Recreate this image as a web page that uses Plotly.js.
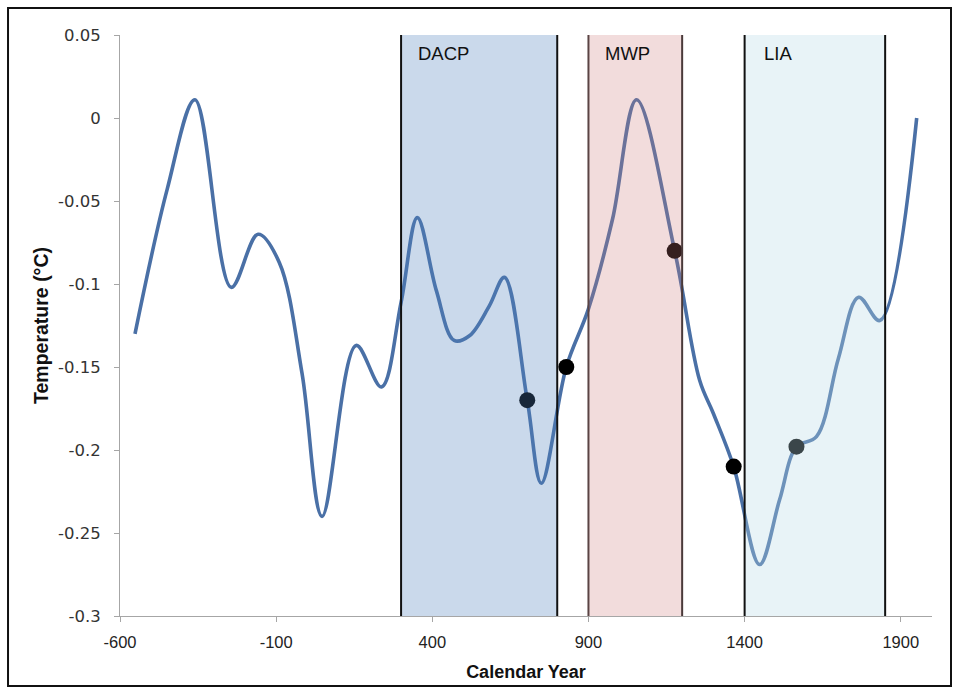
<!DOCTYPE html>
<html>
<head>
<meta charset="utf-8">
<script src="https://cdn.plot.ly/plotly-3.0.1.min.js"></script>
<style>html,body{margin:0;padding:0;background:#fff;}#chart{width:956px;height:687px;}</style>
</head>
<body>
<div id="chart"></div>
<script>
// Reconstructed temperature series (calendar year, °C anomaly)
var years = [-552, -449, -360, -244, -158, -90, -17, 47, 156, 237, 300, 352, 413, 470, 520, 583, 631, 704, 749, 829, 900, 977, 1054, 1176, 1256, 1300, 1365, 1448, 1512, 1566, 1630, 1700, 1765, 1833, 1951];
var temps = [-0.130, -0.043, 0.011, -0.102, -0.070, -0.087, -0.154, -0.240, -0.137, -0.162, -0.111, -0.060, -0.104, -0.134, -0.131, -0.113, -0.096, -0.170, -0.220, -0.150, -0.115, -0.061, 0.011, -0.080, -0.158, -0.178, -0.210, -0.269, -0.230, -0.198, -0.192, -0.145, -0.108, -0.122, 0.000];

// Highlighted points
var markYears = [704, 829, 1176, 1365, 1566];
var markTemps = [-0.17, -0.15, -0.08, -0.21, -0.198];

// Climate periods
var bandNames = ['DACP', 'MWP', 'LIA'];
var bandStart = [300, 900, 1400];
var bandEnd = [800, 1200, 1850];

// Ticks
var xTickVals = [-600, -100, 400, 900, 1400, 1900];
var xTickText = ['-600', '-100', '400', '900', '1400', '1900'];
var yTickVals = [0.05, 0, -0.05, -0.1, -0.15, -0.2, -0.25, -0.3];
var yTickText = ['0.05', '0', '-0.05', '-0.1', '-0.15', '-0.2', '-0.25', '-0.3'];

var bandFill = ['rgba(79,129,189,0.30)', 'rgba(205,120,120,0.26)', 'rgba(183,217,230,0.32)'];
var bandLeftLine = ['#111111', '#5a4444', '#111111'];
var bandRightLine = ['#111111', '#4a3a3a', '#111111'];

var shapes = [];
var annotations = [];
for (var i = 0; i < bandNames.length; i++) {
  shapes.push({type: 'rect', xref: 'x', yref: 'y', x0: bandStart[i], x1: bandEnd[i], y0: -0.3, y1: 0.05,
    fillcolor: bandFill[i], line: {width: 0}, layer: 'above'});
  shapes.push({type: 'line', xref: 'x', yref: 'y', x0: bandStart[i], x1: bandStart[i], y0: -0.3, y1: 0.05,
    line: {color: bandLeftLine[i], width: 2}, layer: 'above'});
  shapes.push({type: 'line', xref: 'x', yref: 'y', x0: bandEnd[i], x1: bandEnd[i], y0: -0.3, y1: 0.05,
    line: {color: bandRightLine[i], width: 2}, layer: 'above'});
  annotations.push({x: bandStart[i], y: 0.0386, xref: 'x', yref: 'y', xanchor: 'left', yanchor: 'middle',
    xshift: i === 2 ? 17 : 15, text: bandNames[i], showarrow: false,
    font: {family: 'Liberation Sans, Arial, sans-serif', size: 18.5, color: '#111111'}});
}
// outer frame
shapes.push({type: 'rect', xref: 'paper', yref: 'paper', x0: -0.1379, x1: 1.0234, y0: -0.1205, y1: 1.0465,
  line: {color: '#111111', width: 2}, fillcolor: 'rgba(0,0,0,0)', layer: 'above'});

var traces = [
  {x: years, y: temps, type: 'scatter', mode: 'lines',
   line: {color: '#4a70a6', width: 3.6, shape: 'spline', smoothing: 1.0}, hoverinfo: 'skip'},
  {x: markYears, y: markTemps, type: 'scatter', mode: 'markers',
   marker: {color: '#000000', size: 16}, hoverinfo: 'skip'}
];

var layout = {
  width: 956, height: 687,
  margin: {l: 120, r: 24, t: 35, b: 71},
  paper_bgcolor: '#ffffff', plot_bgcolor: '#ffffff',
  showlegend: false,
  xaxis: {
    range: [-600, 2000], tickvals: xTickVals, ticktext: xTickText,
    showgrid: false, zeroline: false, showline: true, linecolor: '#a6a6a6', linewidth: 1,
    ticks: 'outside', ticklen: 5, tickcolor: '#a6a6a6', ticklabelstandoff: 6,
    tickfont: {family: 'Liberation Sans, Arial, sans-serif', size: 16.5, color: '#222222'},
    title: {text: '<b>Calendar Year</b>', standoff: 15,
      font: {family: 'Liberation Sans, Arial, sans-serif', size: 18, color: '#111111'}}
  },
  yaxis: {
    range: [-0.3, 0.05], tickvals: yTickVals, ticktext: yTickText,
    showgrid: false, zeroline: false, showline: true, linecolor: '#a6a6a6', linewidth: 1,
    ticks: 'outside', ticklen: 5, tickcolor: '#a6a6a6', ticklabelstandoff: 10,
    tickfont: {family: 'DejaVu Sans, Verdana, sans-serif', size: 16.5, color: '#333333'},
    title: {text: '<b>Temperature (°C)</b>', standoff: 4,
      font: {family: 'Liberation Sans, Arial, sans-serif', size: 19.5, color: '#111111'}}
  },
  shapes: shapes,
  annotations: annotations
};

Plotly.newPlot('chart', traces, layout, {displayModeBar: false, staticPlot: true});
</script>
</body>
</html>
